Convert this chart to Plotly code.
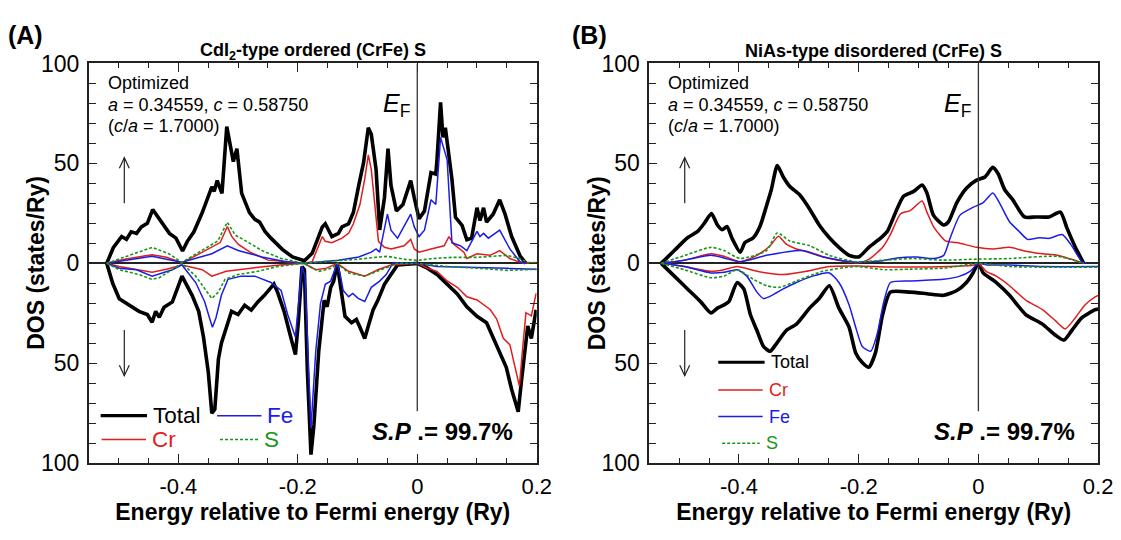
import plotly.graph_objects as go

# ---------------- data (Energy in Ry, DOS in states/Ry; spin-down as negative) ----------------
# Panel A : CdI2-type ordered (CrFe)S
a_tot_up = [(-0.520,0),(-0.509,7.8),(-0.495,13.4),(-0.487,12),(-0.479,15.8),(-0.470,15),(-0.462,18.2),(-0.452,20),
            (-0.443,26.9),(-0.432,22.2),(-0.423,19),(-0.415,15),(-0.404,12.6),(-0.393,6.2),(-0.385,11),(-0.374,15.8),
            (-0.360,25.4),(-0.344,38.2),(-0.340,36),(-0.335,41.4),(-0.327,35),(-0.319,68.4),(-0.313,58.9),(-0.308,50.9),
            (-0.302,57.3),(-0.294,35),(-0.281,25.4),(-0.272,22),(-0.264,20.6),(-0.255,16),(-0.245,12.6),(-0.226,7),
            (-0.209,3.2),(-0.189,1.3),(-0.176,5),(-0.159,18.2),(-0.154,19.8),(-0.143,13.4),(-0.132,15),(-0.126,18.2),
            (-0.115,19.8),(-0.107,25.4),(-0.098,39),(-0.090,50.2),(-0.082,67.8),(-0.077,64.6),(-0.069,47),(-0.063,16.7),
            (-0.055,32.7),(-0.049,57.4),(-0.044,39),(-0.035,26.2),(-0.024,29.4),(-0.011,41.4),(-0.005,32.7),(0.003,22.3),
            (0.012,26.2),(0.023,45.4),(0.031,44.6),(0.033,51.8),(0.039,80.5),(0.043,63),(0.047,67.8),(0.051,58.2),
            (0.058,42.2),(0.064,23),(0.075,19),(0.083,11.8),(0.091,12.6),(0.100,27.8),(0.105,21.4),(0.111,27.8),
            (0.116,20.6),(0.127,24.6),(0.138,31.8),(0.147,24.6),(0.158,13.4),(0.172,3.8),(0.182,0)]
a_cr_up = [(-0.520,0),(-0.490,2),(-0.460,3.5),(-0.444,4.3),(-0.420,3),(-0.394,0.3),(-0.370,4),(-0.344,8),(-0.330,10.4),
           (-0.318,18.4),(-0.311,13.6),(-0.300,9.6),(-0.280,5.6),(-0.250,1.6),(-0.200,0.3),(-0.189,0),(-0.176,0.8),
           (-0.159,13.4),(-0.154,11),(-0.143,10.3),(-0.126,12.6),(-0.115,15),(-0.107,19.8),(-0.096,29.4),(-0.088,42.2),
           (-0.082,54.2),(-0.077,47),(-0.069,23),(-0.065,11),(-0.055,8),(-0.044,7.2),(-0.022,8.8),(-0.011,12),
           (-0.005,7.2),(0.003,5.6),(0.023,7.2),(0.045,8.8),(0.053,13.4),(0.061,9.6),(0.078,5.6),(0.083,2.4),
           (0.100,4.8),(0.122,4),(0.138,6.4),(0.155,2.4),(0.177,0),(0.200,0.3)]
a_fe_up = [(-0.520,0),(-0.490,1.5),(-0.444,3.5),(-0.420,2),(-0.394,0.5),(-0.344,4.8),(-0.318,8.8),(-0.300,6.4),
           (-0.260,3.2),(-0.220,0.8),(-0.189,0),(-0.132,1.6),(-0.098,3.2),(-0.077,5.6),(-0.069,7.2),(-0.063,5.6),
           (-0.050,24.6),(-0.044,16.6),(-0.033,12.6),(-0.011,24.6),(-0.005,18.2),(0.003,13.4),(0.012,16.6),(0.023,31.8),
           (0.031,29.4),(0.039,63),(0.045,57.4),(0.050,51.8),(0.058,10.3),(0.072,8.8),(0.083,6.4),(0.100,16),
           (0.105,13.4),(0.111,15),(0.119,12.6),(0.138,16.6),(0.155,7.2),(0.172,0.8),(0.182,0)]
a_s_up = [(-0.520,0),(-0.488,3.2),(-0.444,8),(-0.416,4.8),(-0.394,0.5),(-0.361,6.4),(-0.334,11.2),(-0.318,20.6),
          (-0.305,14.2),(-0.278,9.6),(-0.260,6.4),(-0.228,2.4),(-0.189,0),(-0.150,1),(-0.100,2),(-0.070,3),(-0.050,3.5),
          (-0.020,2),(0.000,1.5),(0.030,2.5),(0.060,3),(0.100,3),(0.130,3.5),(0.150,4),(0.170,2.5),(0.185,0.5),(0.200,0.3)]
a_tot_dn = [(-0.520,0),(-0.510,-10),(-0.499,-17.7),(-0.482,-21),(-0.466,-24),(-0.452,-25.6),(-0.444,-29.5),(-0.438,-24),
            (-0.432,-27),(-0.424,-22),(-0.410,-19.3),(-0.394,-6.4),(-0.388,-9.6),(-0.377,-16),(-0.366,-24),(-0.358,-36.8),
            (-0.350,-54.3),(-0.344,-75),(-0.339,-73),(-0.333,-48),(-0.328,-40),(-0.317,-30.4),(-0.311,-24),(-0.300,-25.6),
            (-0.289,-21),(-0.278,-23.4),(-0.267,-19.3),(-0.256,-16),(-0.240,-10.4),(-0.234,-14.4),(-0.223,-24),
            (-0.212,-36.8),(-0.204,-45.6),(-0.199,-28.8),(-0.193,-1.6),(-0.189,-3.2),(-0.184,-54),(-0.178,-95.7),
            (-0.173,-80.7),(-0.165,-44),(-0.156,-18.5),(-0.151,-21.7),(-0.145,-12.1),(-0.140,-8.9),(-0.134,0),
            (-0.129,-10.5),(-0.121,-26.5),(-0.110,-29.7),(-0.102,-28.1),(-0.096,-32),(-0.088,-37.6),(-0.082,-31.3),
            (-0.074,-23.3),(-0.066,-18.5),(-0.055,-10.5),(-0.044,-5.6),(-0.033,-0.8),(0.000,0),(0.017,-2.4),(0.033,-5.6),
            (0.050,-10.5),(0.067,-15.3),(0.083,-21.7),(0.100,-26.5),(0.116,-29.7),(0.130,-39.2),(0.138,-44),(0.149,-52),
            (0.158,-63.1),(0.169,-74.3),(0.174,-60),(0.180,-42.4),(0.185,-31.3),(0.191,-37.6),(0.199,-23.3)]
a_cr_dn = [(-0.520,0),(-0.499,-1.6),(-0.444,-4.5),(-0.420,-3),(-0.394,-0.8),(-0.360,-3.2),(-0.344,-6.4),(-0.320,-4),
           (-0.278,-2.4),(-0.230,-0.8),(-0.190,0),(-0.170,-3.2),(-0.152,-2.4),(-0.134,0),(-0.115,-4),(-0.088,-6.4),
           (-0.066,-3.2),(-0.044,-0.8),(0.000,0),(0.017,-2.4),(0.033,-4),(0.050,-8.8),(0.067,-12),(0.083,-16.7),
           (0.100,-18.3),(0.122,-23.1),(0.133,-27.9),(0.144,-37.5),(0.155,-40.7),(0.171,-61.4),(0.177,-40.7),
           (0.182,-24.7),(0.191,-26.3),(0.199,-15)]
a_fe_dn = [(-0.520,0),(-0.499,-2.4),(-0.470,-3.2),(-0.444,-6.4),(-0.410,-3.2),(-0.394,-0.8),(-0.371,-9.6),(-0.356,-19.2),
           (-0.348,-27.2),(-0.343,-32),(-0.337,-27.2),(-0.328,-16),(-0.317,-8),(-0.295,-6.4),(-0.272,-6.4),(-0.245,-9.6),
           (-0.228,-13.6),(-0.217,-25.6),(-0.204,-36.8),(-0.199,-22.4),(-0.193,-1.6),(-0.188,-6.4),(-0.182,-54),
           (-0.178,-82.4),(-0.170,-44),(-0.162,-20),(-0.154,-10.5),(-0.145,-8.9),(-0.134,0),(-0.129,-5.6),(-0.124,-13.6),
           (-0.115,-16.7),(-0.108,-15.1),(-0.099,-17.5),(-0.088,-19.1),(-0.077,-12),(-0.063,-8.9),(-0.052,-5.6),
           (-0.041,0),(0.000,0),(0.033,-1.6),(0.100,-2),(0.150,-2.5),(0.200,-3)]
a_s_dn = [(-0.520,0),(-0.499,-3.2),(-0.466,-5.6),(-0.444,-8),(-0.432,-7.2),(-0.410,-3.2),(-0.394,0),(-0.371,-6.4),
          (-0.356,-12.8),(-0.344,-17.6),(-0.333,-14.4),(-0.322,-8),(-0.300,-5.6),(-0.267,-4),(-0.234,-1.6),(-0.190,0),
          (-0.165,-4),(-0.143,-2.4),(-0.134,0),(-0.115,-4.8),(-0.088,-6.4),(-0.055,-2.4),(-0.033,0),(0.000,0),
          (0.050,-1.6),(0.100,-2.4),(0.150,-3.5),(0.200,-3)]

# Panel B : NiAs-type disordered (CrFe)S
b_tot_up = [(-0.530,0),(-0.508,6.4),(-0.486,12.8),(-0.469,16),(-0.458,20),(-0.446,24.9),(-0.436,19.2),(-0.428,16.8),
            (-0.420,18.4),(-0.412,12.8),(-0.398,5.6),(-0.390,10.4),(-0.376,12.8),(-0.365,18.4),(-0.354,28.8),
            (-0.346,36.8),(-0.336,48.9),(-0.326,43.2),(-0.315,38.4),(-0.299,34.4),(-0.282,27.2),(-0.266,19.2),
            (-0.249,12.8),(-0.233,8),(-0.216,4),(-0.200,3.2),(-0.183,8),(-0.160,13.5),(-0.152,16),(-0.136,27.2),
            (-0.125,33.6),(-0.108,36),(-0.094,39.2),(-0.086,35.2),(-0.075,24),(-0.058,19.2),(-0.050,20.8),(-0.036,30.4),
            (-0.020,37.6),(-0.003,41.6),(0.011,43.2),(0.024,48),(0.033,44.8),(0.044,36.8),(0.057,32),(0.077,23.2),
            (0.096,23.2),(0.118,23.2),(0.137,25.6),(0.148,17.6),(0.162,8),(0.176,0)]
b_cr_up = [(-0.530,0),(-0.491,1.6),(-0.447,4.8),(-0.425,3.5),(-0.398,0.8),(-0.370,4),(-0.348,8.8),(-0.334,13.6),
           (-0.321,9.6),(-0.304,7.2),(-0.282,5.6),(-0.249,2.4),(-0.200,0.3),(-0.183,2),(-0.160,8),(-0.147,14.4),
           (-0.130,24.8),(-0.114,26.4),(-0.094,31.2),(-0.086,25.6),(-0.075,18.4),(-0.055,11.2),(-0.036,10.4),
           (-0.003,8),(0.024,7.2),(0.052,8),(0.079,6.1),(0.107,4.8),(0.132,4),(0.151,2.4),(0.176,0)]
b_fe_up = [(-0.530,0),(-0.491,1.6),(-0.447,4),(-0.425,2.7),(-0.398,0.8),(-0.354,4),(-0.296,6.4),(-0.260,3.2),
           (-0.205,0.6),(-0.160,1.3),(-0.136,2.7),(-0.103,3.2),(-0.075,2.4),(-0.058,4),(-0.047,12.8),(-0.031,24),
           (-0.009,28),(0.008,30.4),(0.024,35.2),(0.035,30.4),(0.052,20.8),(0.068,16),(0.082,12),(0.101,12.8),
           (0.118,12.5),(0.140,14.4),(0.154,9.6),(0.173,0.8),(0.180,0)]
b_s_up = [(-0.530,0),(-0.490,4),(-0.447,8),(-0.425,6.4),(-0.398,2.4),(-0.354,6.4),(-0.336,15.2),(-0.315,11.2),
          (-0.282,8.8),(-0.249,4),(-0.205,0.8),(-0.160,1.5),(-0.110,2.4),(-0.060,1.6),(-0.003,2.1),(0.052,2.4),
          (0.132,3.5),(0.176,0)]
b_tot_dn = [(-0.530,0),(-0.508,-6.4),(-0.486,-12.8),(-0.464,-19.2),(-0.447,-24.8),(-0.436,-22.4),(-0.425,-20.8),
            (-0.417,-19.2),(-0.403,-9.6),(-0.392,-12.8),(-0.381,-25.6),(-0.370,-33.6),(-0.359,-41.6),(-0.348,-44),
            (-0.337,-40),(-0.321,-33.6),(-0.304,-30.4),(-0.282,-22.4),(-0.266,-17.6),(-0.249,-11.2),(-0.233,-22.4),
            (-0.216,-32),(-0.205,-44.8),(-0.194,-49.6),(-0.183,-52),(-0.172,-44.8),(-0.160,-25.6),(-0.147,-14.4),
            (-0.114,-14.4),(-0.086,-15.2),(-0.058,-16),(-0.036,-13.6),(-0.020,-9.6),(-0.009,-4.8),(0.000,0),
            (0.008,-4.8),(0.030,-9.6),(0.052,-16),(0.079,-25.6),(0.107,-30.4),(0.129,-36),(0.143,-38.4),(0.156,-33.6),
            (0.173,-27.2),(0.195,-23.2),(0.200,-22.8)]
b_cr_dn = [(-0.530,0),(-0.491,-1.6),(-0.447,-4),(-0.425,-3.2),(-0.403,-1.6),(-0.370,-4),(-0.326,-5.6),(-0.288,-4),
           (-0.249,-1.6),(-0.200,-1.3),(-0.150,-1.8),(-0.050,-1.6),(-0.010,-1),(0.000,0),(0.013,-4),(0.030,-6.4),
           (0.052,-11.2),(0.079,-18.4),(0.107,-23.2),(0.129,-28.8),(0.145,-32.8),(0.162,-27.2),(0.178,-20.8),
           (0.195,-16.8),(0.200,-16)]
b_fe_dn = [(-0.530,0),(-0.491,-1.6),(-0.447,-4.8),(-0.425,-4.5),(-0.403,-3.2),(-0.387,-6.4),(-0.370,-14.4),
           (-0.359,-17.6),(-0.345,-16),(-0.326,-12.8),(-0.304,-9.6),(-0.277,-6.4),(-0.249,-4.8),(-0.233,-9.6),
           (-0.216,-20.8),(-0.205,-32),(-0.194,-41.6),(-0.180,-44),(-0.169,-35.2),(-0.158,-19.2),(-0.147,-9.6),
           (-0.114,-8.8),(-0.058,-8),(-0.031,-6.4),(-0.014,-4),(0.000,0),(0.015,-0.8),(0.052,-0.8),(0.107,-1.6),
           (0.200,-1.6)]
b_s_dn = [(-0.530,0),(-0.491,-3.2),(-0.447,-7.2),(-0.425,-6.4),(-0.403,-3.2),(-0.376,-8),(-0.354,-11.2),(-0.332,-12),
          (-0.304,-8.8),(-0.260,-4),(-0.205,-1.6),(-0.156,-3.2),(-0.114,-2.9),(-0.058,-2.4),(0.000,0),(0.052,-1.6),
          (0.107,-1.9),(0.200,-1.9)]

y_tickvals = [-100, -50, 0, 50, 100]
y_ticktext = ["100", "50", "0", "50", "100"]
x_tickvals = [-0.4, -0.2, 0, 0.2]
x_ticktext = ["-0.4", "-0.2", "0", "0.2"]
x_title = "Energy relative to Fermi energy (Ry)"
y_title = "DOS (states/Ry)"

# ---------------- styling ----------------
W, H = 1121, 540
FONT = "Arial, Liberation Sans, Helvetica, sans-serif"
RED, BLUE, GREEN, BLACK = "rgb(226,28,28)", "rgb(28,28,232)", "rgb(22,150,22)", "black"
styles = {
    "tot": dict(color=BLACK, width=3.6),
    "cr": dict(color=RED, width=1.5),
    "fe": dict(color=BLUE, width=1.5),
    "s": dict(color=GREEN, width=1.6, dash="3px,2px"),
}
TOP, BOT = 53, 473   # plot frame, page pixels

def fx(p):
    return p / W

def fy(p):
    return 1 - p / H

fig = go.Figure()

panels = [
    ("x", "y", {"tot": (a_tot_up, a_tot_dn), "cr": (a_cr_up, a_cr_dn), "fe": (a_fe_up, a_fe_dn), "s": (a_s_up, a_s_dn)}, "linear"),
    ("x2", "y2", {"tot": (b_tot_up, b_tot_dn), "cr": (b_cr_up, b_cr_dn), "fe": (b_fe_up, b_fe_dn), "s": (b_s_up, b_s_dn)}, "spline"),
]
for xa, ya, series, shape in panels:
    for key in ["tot", "cr", "fe", "s"]:
        for pts in series[key]:
            line = dict(**styles[key])
            if shape == "spline":
                line.update(shape="spline", smoothing=0.6)
            fig.add_trace(go.Scatter(
                x=[p[0] for p in pts], y=[p[1] for p in pts], mode="lines", line=line,
                xaxis=xa, yaxis=ya, showlegend=False, hoverinfo="skip"))

# ---------------- axes ----------------
AX = "#222"
def xaxis(domain, anchor):
    return dict(domain=domain, anchor=anchor, range=[-0.55, 0.2], tickmode="array", tickvals=x_tickvals, ticktext=x_ticktext,
                ticks="inside", ticklen=9, tickwidth=1.2, tickcolor=AX,
                minor=dict(tickmode="linear", tick0=0, dtick=0.05, ticks="inside", ticklen=5, tickwidth=1.1, tickcolor=AX),
                showline=True, linecolor=AX, linewidth=1.6, mirror="ticks", showgrid=False, zeroline=False,
                ticklabelstandoff=3, tickfont=dict(family=FONT, size=22, color="black"), fixedrange=True,
                title=dict(text="<b>" + x_title + "</b>", standoff=4, font=dict(family=FONT, size=23, color="black")))

def yaxis(anchor):
    return dict(domain=[fy(BOT), fy(TOP)], range=[-100, 100], tickmode="array", tickvals=y_tickvals, ticktext=y_ticktext,
                ticks="inside", ticklen=8, tickwidth=1.2, tickcolor=AX,
                minor=dict(tickmode="linear", tick0=0, dtick=10, ticks="inside", ticklen=7, tickwidth=1.1, tickcolor=AX),
                showline=True, linecolor=AX, linewidth=1.6, mirror="ticks", showgrid=False,
                zeroline=True, zerolinecolor=AX, zerolinewidth=1.6, anchor=anchor,
                ticklabelstandoff=3, tickfont=dict(family=FONT, size=23, color="black"), fixedrange=True)

fig.update_layout(
    width=W, height=H, margin=dict(l=0, r=0, t=0, b=0),
    paper_bgcolor="white", plot_bgcolor="white",
    xaxis=xaxis([fx(90), fx(544)], "y"), yaxis=yaxis("x"),
    xaxis2=xaxis([fx(658), fx(1113)], "y2"), yaxis2=yaxis("x2"),
    title=dict(text="<b>(A)</b>", x=fx(8), xanchor="left", xref="paper", y=fy(23), yanchor="middle", yref="paper",
               font=dict(family=FONT, size=25, color="black")),
)

shapes = []
ann = []

def text(x, y, s, size, xanchor="left", color="black", angle=0):
    ann.append(dict(x=fx(x), y=fy(y), xref="paper", yref="paper", text=s, showarrow=False,
                    xanchor=xanchor, yanchor="middle", textangle=angle,
                    font=dict(family=FONT, size=size, color=color)))

def arrow(x, y_tail, y_head):
    d = 1 if y_head > y_tail else -1   # +1: pointing down
    shapes.append(dict(type="line", xref="paper", yref="paper", x0=fx(x), x1=fx(x), y0=fy(y_tail), y1=fy(y_head),
                       line=dict(color="#222", width=1.2)))
    path = "M {} {} L {} {} L {} {}".format(fx(x - 5), fy(y_head - d * 11), fx(x), fy(y_head), fx(x + 5), fy(y_head - d * 11))
    shapes.append(dict(type="path", xref="paper", yref="paper", path=path, line=dict(color="#222", width=1.2)))

text(578, 23, "<b>(B)</b>", 25)
for xr, yr, left, right, title, titlex in [
        ("x", "y", 90, 544, "CdI<sub>2</sub>-type ordered (CrFe) S", 317),
        ("x2", "y2", 658, 1113, "NiAs-type disordered (CrFe) S", 885)]:
    # Fermi level line
    shapes.append(dict(type="line", xref=xr, yref=yr, x0=0, x1=0, y0=-74, y1=100,
                       line=dict(color="#333", width=1.3)))
    text(titlex, 40, "<b>" + title + "</b>", 18, xanchor="center")
    text(left - 53, 263, "<b>" + y_title + "</b>", 23, xanchor="center", angle=-90)
    text(left + 17, 74, "Optimized", 18)
    text(left + 17, 97, "<i>a</i> = 0.34559, <i>c</i> = 0.58750", 18)
    text(left + 17, 119, "(<i>c</i>/<i>a</i> = 1.7000)", 18)
    text(right - 158, 97, "<i>E</i><sub>F</sub>", 25)
    text(right - 95, 440, "<b><i>S.P</i> .= 99.7%</b>", 24, xanchor="center")
    # spin arrows (up: majority, down: minority)
    arrow(left + 36, 200, 152)
    arrow(left + 36, 333, 381)

# legends (drawn as sample lines + coloured labels)
def leg(x0, x1, y, key, label, color, size):
    st = styles[key]
    shapes.append(dict(type="line", xref="paper", yref="paper", x0=fx(x0), x1=fx(x1), y0=fy(y), y1=fy(y),
                       line=dict(color=st["color"], width=st["width"] * (0.85 if key == "tot" else 1),
                                 dash=st.get("dash", "solid"))))
    text(x1 + 4, y, label, size, color=color)

leg(102, 149, 423, "tot", "Total", BLACK, 22.5)
leg(220, 265, 423, "fe", "Fe", BLUE, 22.5)
leg(103, 148, 448, "cr", "Cr", RED, 22.5)
leg(223, 262, 448, "s", "S", GREEN, 22.5)

leg(728, 775, 367, "tot", "Total", BLACK, 18)
leg(728, 773, 396, "cr", "Cr", RED, 18)
leg(728, 773, 424, "fe", "Fe", BLUE, 18)
leg(732, 770, 452, "s", "S", GREEN, 18)

fig.update_layout(shapes=shapes, annotations=ann)
fig.write_html("out.html")
